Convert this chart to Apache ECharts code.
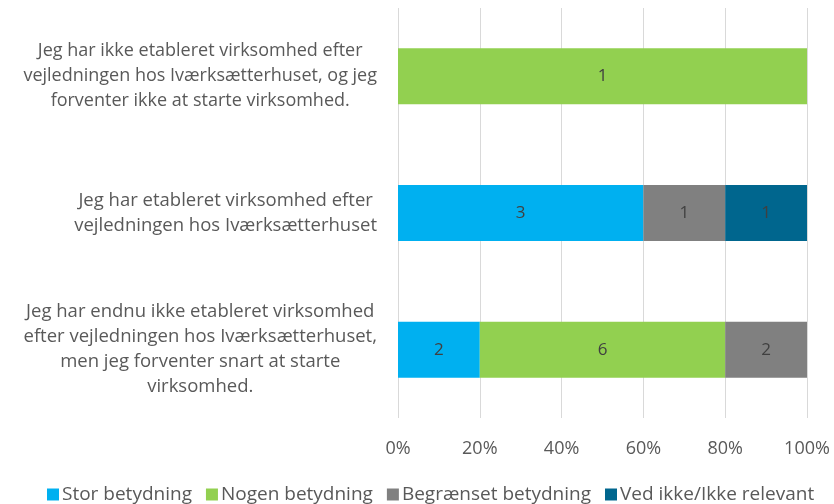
<!DOCTYPE html>
<html><head><meta charset="utf-8">
<script src="https://cdn.jsdelivr.net/npm/echarts@6/dist/echarts.min.js"></script>
<style>html,body{margin:0;padding:0;background:#fff}#c{width:834px;height:504px}</style>
</head><body><div id="c"></div>
<script>
const categories = [
  "Jeg har ikke etableret virksomhed efter\nvejledningen hos Iværksætterhuset, og jeg\nforventer ikke at starte virksomhed.",
  "Jeg har etableret virksomhed efter\nvejledningen hos Iværksætterhuset",
  "Jeg har endnu ikke etableret virksomhed\nefter vejledningen hos Iværksætterhuset,\nmen jeg forventer snart at starte\nvirksomhed."
];
const seriesNames = ["Stor betydning", "Nogen betydning", "Begrænset betydning", "Ved ikke/Ikke relevant"];
const storBetydning = [0, 3, 2];
const nogenBetydning = [1, 0, 6];
const begraensetBetydning = [0, 1, 2];
const vedIkke = [0, 1, 0];
const tickLabels = ["0%", "20%", "40%", "60%", "80%", "100%"];

const counts = [storBetydning, nogenBetydning, begraensetBetydning, vedIkke];
const colors = ["#00B0F0", "#92D050", "#808080", "#00668E"];
const totals = categories.map((_, i) => counts.reduce((s, a) => s + a[i], 0));
const FONT = "'Open Sans', sans-serif";

const series = counts.map((arr, si) => ({
  name: seriesNames[si],
  type: 'bar',
  stack: 'total',
  barWidth: 56,
  itemStyle: { color: colors[si] },
  label: {
    show: true, position: 'inside', color: '#404040', fontSize: 17, fontFamily: FONT,
    formatter: p => String(arr[p.dataIndex])
  },
  data: arr.map((v, i) => v === 0 ? null : v / totals[i] * 100)
}));

const chart = echarts.init(document.getElementById('c'), null, { renderer: 'canvas' });
chart.setOption({
  animation: false,
  backgroundColor: '#fff',
  grid: { left: 398, right: 27, top: 8, bottom: 86, containLabel: false },
  legend: {
    top: 480, left: 42, itemWidth: 12, itemHeight: 12, itemGap: 14,
    icon: 'rect',
    textStyle: { color: '#595959', fontSize: 19, fontFamily: FONT, padding: [0, 0, 0, -2] },
    data: seriesNames
  },
  xAxis: {
    type: 'value', min: 0, max: 100, interval: 20,
    axisLine: { show: false }, axisTick: { show: false },
    splitLine: { lineStyle: { color: '#D9D9D9', width: 1 } },
    axisLabel: {
      color: '#595959', fontSize: 18, fontFamily: FONT, margin: 22,
      formatter: v => tickLabels[Math.round(v / 20)]
    }
  },
  yAxis: {
    type: 'category', inverse: true, data: categories,
    axisLine: { show: false }, axisTick: { show: false },
    axisLabel: {
      margin: 21, align: 'right',
      formatter: (v, i) => v.split('\n').map(l => (i === 0 ? '{a|' : '{c|') + l + '}').join('\n'),
      rich: {
        c: { align: 'center', fontSize: 18.5, color: '#595959', fontFamily: FONT, lineHeight: 25 },
        a: { align: 'center', fontSize: 18, color: '#595959', fontFamily: FONT, lineHeight: 25 }
      }
    }
  },
  series
});
</script></body></html>
